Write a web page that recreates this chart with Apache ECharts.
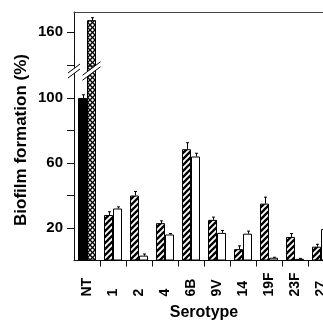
<!DOCTYPE html>
<html><head><meta charset="utf-8">
<script src="https://cdn.jsdelivr.net/npm/echarts@6/dist/echarts.min.js"></script>
<style>html,body{margin:0;padding:0;background:#fff}#c{width:323px;height:321px}</style>
</head><body><div id="c"></div>
<script>
// ---------- data ----------
const categories = ['NT', '1', '2', '4', '6B', '9V', '14', '19F', '23F', '27'];
// first bar of each pair: NT = solid black, serotypes = hatched
const seriesAValues = [100, 28, 40, 23, 68.5, 25, 7, 35, 14.5, 8.5];
const seriesAErrors = [2, 2, 2.5, 1.4, 4, 1.7, 2, 4, 2.1, 1.5];
// second bar of each pair: NT = cross-hatched, serotypes = open
const seriesBValues = [167.5, 32, 3, 16, 64, 17, 16.5, 1.7, 1, 19.4];
const seriesBErrors = [1.5, 1, 1, 0.6, 2, 1.5, 1.6, 0.3, 0.3, 1];
const lowerTickValues = [20, 40, 60, 80, 100];
const lowerLabelValues = [20, 60, 100];
const upperTickValues = [140, 160];
const upperLabelValues = [160];
const xAxisTitle = 'Serotype';
const yAxisTitle = 'Biofilm formation (%)';

// ---------- layout / style ----------
const LEFT = 74, BAND = 26, PLOT_W = BAND * categories.length;
const TOP = 12, AXIS_Y = 260.5, PX = 1.625;
const UP_BOTTOM = 74, LOW_TOP = 66;
const upperMax = 172.5, upperMin = upperMax - (UP_BOTTOM - TOP) / PX;
const lowerMax = (AXIS_Y - LOW_TOP) / PX;
const BAR_W = 9;
const FONT = '"Liberation Sans", Arial, Helvetica, sans-serif';
const INK = '#111';

function makePattern(kind) {
  const c = document.createElement('canvas');
  const s = kind === 'hatch' ? 6 : 5;
  c.width = s; c.height = s;
  const g = c.getContext('2d');
  g.fillStyle = '#fff'; g.fillRect(0, 0, s, s);
  g.strokeStyle = '#000';
  g.lineWidth = kind === 'hatch' ? 2.3 : 1.3;
  const seg = (a, b, cc, d) => { g.beginPath(); g.moveTo(a, b); g.lineTo(cc, d); g.stroke(); };
  seg(-1, s + 1, s + 1, -1); seg(-1, 1, 1, -1); seg(s - 1, s + 1, s + 1, s - 1);
  if (kind === 'cross') {
    seg(-1, -1, s + 1, s + 1); seg(s - 1, -1, s + 1, 1); seg(-1, s - 1, 1, s + 1);
  }
  return { image: c, repeat: 'repeat' };
}
const hatch = makePattern('hatch');
const cross = makePattern('cross');

function dataA(keep) {
  return seriesAValues.map((v, i) => !keep(v) ? '-' :
    (i === 0 ? { value: v, itemStyle: { color: '#000' } } : v));
}
function dataB(keep) {
  return seriesBValues.map((v, i) => !keep(v) ? '-' :
    (i === 0 ? { value: v, itemStyle: { color: cross } } : v));
}
const inUpper = v => v > upperMin;
const inLower = v => true;

function errRender(side) {
  return function (params, api) {
    const i = api.value(0), v = api.value(1), e = api.value(2);
    const base = api.coord([i, v]), top = api.coord([i, v + e]);
    const x = Math.round(base[0] + side * BAR_W / 2) + 0.5;
    return {
      type: 'group', children: [
        { type: 'line', shape: { x1: x, y1: base[1], x2: x, y2: top[1] }, style: { stroke: '#000', lineWidth: 1 } },
        { type: 'line', shape: { x1: x - 1.5, y1: top[1], x2: x + 1.5, y2: top[1] }, style: { stroke: '#000', lineWidth: 1 } }
      ]
    };
  };
}
function errData(vals, errs, keep) {
  return vals.map((v, i) => keep(v) ? [i, v, errs[i]] : null).filter(d => d);
}

function yAxis(grid, min, max, ticks, labels) {
  return {
    gridIndex: grid, type: 'value', min: min, max: max,
    axisLine: { show: true, lineStyle: { color: INK, width: 1 } },
    axisTick: { show: true, length: 7, inside: false, customValues: ticks, lineStyle: { color: INK } },
    axisLabel: { show: true, customValues: labels, margin: 11, color: '#000', fontFamily: FONT, fontWeight: 'bold', fontSize: 15 },
    splitLine: { show: false }
  };
}

// break marks (decoration)
function breakBand(cx, cy, hw) {
  const s = -0.75, g = 2.5;
  const yl = cy - s * hw, yr = cy + s * hw;
  return [
    { type: 'polygon', z: 100, shape: { points: [[cx - hw, yl - g], [cx + hw, yr - g], [cx + hw, yr + g], [cx - hw, yl + g]] }, style: { fill: '#fff' } },
    { type: 'line', z: 101, shape: { x1: cx - hw, y1: yl - g, x2: cx + hw, y2: yr - g }, style: { stroke: '#000', lineWidth: 1 } },
    { type: 'line', z: 101, shape: { x1: cx - hw, y1: yl + g, x2: cx + hw, y2: yr + g }, style: { stroke: '#000', lineWidth: 1 } }
  ];
}
const BREAK_Y = 71;

const chart = echarts.init(document.getElementById('c'), null, { renderer: 'canvas' });
chart.setOption({
  animation: false,
  backgroundColor: '#fff',
  grid: [
    { left: LEFT, top: TOP, width: PLOT_W, height: UP_BOTTOM - TOP, containLabel: false, outerBoundsMode: 'none' },
    { left: LEFT, top: LOW_TOP, width: PLOT_W, height: AXIS_Y - LOW_TOP, containLabel: false, outerBoundsMode: 'none' }
  ],
  xAxis: [
    { gridIndex: 0, type: 'category', data: categories, position: 'top',
      axisLine: { show: true, lineStyle: { color: '#444', width: 1 } }, axisTick: { show: false }, axisLabel: { show: false } },
    { gridIndex: 1, type: 'category', data: categories, position: 'bottom',
      axisLine: { show: true, onZero: false, lineStyle: { color: INK, width: 1 } },
      axisTick: { show: true, length: 6, inside: false, interval: (idx) => idx !== 0, lineStyle: { color: INK } },
      axisLabel: { show: true, interval: 0, rotate: 90, align: 'left', margin: 36, color: '#000', fontFamily: FONT, fontWeight: 'bold', fontSize: 14 },
      name: xAxisTitle, nameLocation: 'middle', nameGap: 44,
      nameTextStyle: { color: '#000', fontFamily: FONT, fontWeight: 'bold', fontSize: 16 } }
  ],
  yAxis: [
    yAxis(0, upperMin, upperMax, upperTickValues, upperLabelValues),
    yAxis(1, 0, lowerMax, lowerTickValues, lowerLabelValues)
  ],
  series: [
    { type: 'bar', xAxisIndex: 0, yAxisIndex: 0, barWidth: BAR_W, barGap: '0%', clip: true,
      data: dataA(inUpper), itemStyle: { color: hatch, borderColor: '#000', borderWidth: 1 } },
    { type: 'bar', xAxisIndex: 0, yAxisIndex: 0, barWidth: BAR_W, barGap: '0%', clip: true,
      data: dataB(inUpper), itemStyle: { color: '#fff', borderColor: '#000', borderWidth: 1 } },
    { type: 'bar', xAxisIndex: 1, yAxisIndex: 1, barWidth: BAR_W, barGap: '0%', clip: true,
      data: dataA(inLower), itemStyle: { color: hatch, borderColor: '#000', borderWidth: 1 } },
    { type: 'bar', xAxisIndex: 1, yAxisIndex: 1, barWidth: BAR_W, barGap: '0%', clip: true,
      data: dataB(inLower), itemStyle: { color: '#fff', borderColor: '#000', borderWidth: 1 } },
    { type: 'custom', xAxisIndex: 0, yAxisIndex: 0, renderItem: errRender(-1), clip: true, z: 5,
      data: errData(seriesAValues, seriesAErrors, inUpper) },
    { type: 'custom', xAxisIndex: 0, yAxisIndex: 0, renderItem: errRender(1), clip: true, z: 5,
      data: errData(seriesBValues, seriesBErrors, inUpper) },
    { type: 'custom', xAxisIndex: 1, yAxisIndex: 1, renderItem: errRender(-1), clip: true, z: 5,
      data: errData(seriesAValues, seriesAErrors, v => v < lowerMax) },
    { type: 'custom', xAxisIndex: 1, yAxisIndex: 1, renderItem: errRender(1), clip: true, z: 5,
      data: errData(seriesBValues, seriesBErrors, v => v < lowerMax) }
  ],
  graphic: [
    { type: 'text', x: 21, y: 140, rotation: Math.PI / 2, z: 100,
      style: { text: yAxisTitle, font: 'bold 17px ' + FONT, fill: '#000', align: 'center', verticalAlign: 'middle' } }
  ].concat(breakBand(LEFT, BREAK_Y, 6)).concat(breakBand(LEFT + BAND / 2 + BAR_W / 2, BREAK_Y, 9))
});
</script>
</body></html>
